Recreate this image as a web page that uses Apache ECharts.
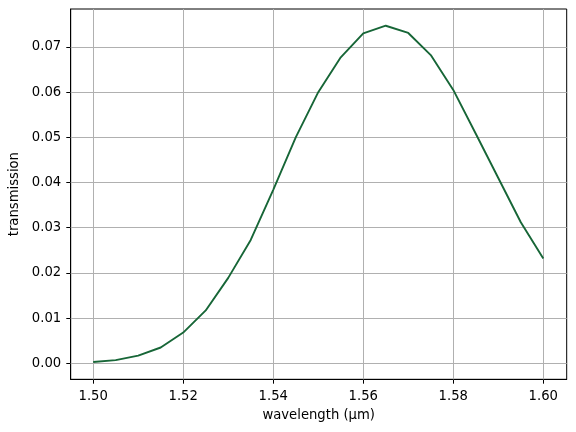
<!DOCTYPE html>
<html><head><meta charset="utf-8">
<script src="https://cdn.jsdelivr.net/npm/echarts@6/dist/echarts.min.js"></script>
<style>html,body{margin:0;padding:0;background:#fff}#c{width:576px;height:432px}</style>
</head><body><div id="c"></div>
<script>
const wavelength = [1.500,1.505,1.510,1.515,1.520,1.525,1.530,1.535,1.540,1.545,1.550,1.555,1.560,1.565,1.570,1.575,1.580,1.585,1.590,1.595,1.600];
const transmission = [0.0003,0.0007,0.0017,0.0035,0.0068,0.0117,0.0189,0.0273,0.0384,0.0500,0.0600,0.0677,0.0730,0.0747,0.0731,0.0682,0.0605,0.0508,0.0410,0.0312,0.0232];
const xTicks = [1.50,1.52,1.54,1.56,1.58,1.60];
const yTicks = [0.00,0.01,0.02,0.03,0.04,0.05,0.06,0.07];

const font = 'DejaVu Sans';
const fs = 13.2;
const chart = echarts.init(document.getElementById('c'));
chart.setOption({
  animation:false,
  grid:{left:70.7,right:9.3,top:9,bottom:52.7,outerBoundsMode:'none',containLabel:false,show:true,borderColor:'#000',borderWidth:1,backgroundColor:'transparent'},
  xAxis:{type:'value',min:1.495,max:1.6052,
    name:'wavelength (µm)',nameLocation:'middle',nameGap:30,
    nameTextStyle:{fontFamily:font,fontSize:fs,color:'#000'},
    axisLine:{show:true,onZero:false,lineStyle:{color:'#000',width:1}},
    axisTick:{show:true,length:4.4,lineStyle:{color:'#000',width:1},customValues:xTicks},
    axisLabel:{fontFamily:font,fontSize:fs,color:'#000',margin:10.5,customValues:xTicks,formatter:v=>v.toFixed(2)},
    splitLine:{show:false}},
  yAxis:{type:'value',min:-0.00354,max:0.0784,
    name:'transmission',nameLocation:'middle',nameGap:43,nameRotate:90,
    nameTextStyle:{fontFamily:font,fontSize:fs,color:'#000'},
    axisLine:{show:true,onZero:false,lineStyle:{color:'#000',width:1}},
    axisTick:{show:true,length:4.4,lineStyle:{color:'#000',width:1},customValues:yTicks},
    axisLabel:{fontFamily:font,fontSize:fs,color:'#000',margin:9.5,customValues:yTicks,formatter:v=>v.toFixed(2)},
    splitLine:{show:false}},
  series:[{type:'line',data:wavelength.map((w,i)=>[w,transmission[i]]),
    showSymbol:false,lineStyle:{color:'#176637',width:1.9},itemStyle:{color:'#176637'},z:3,
    markLine:{silent:true,symbol:'none',label:{show:false},z:1,
      lineStyle:{color:'#b0b0b0',width:1,type:'solid'},
      data:[...xTicks.map(v=>({xAxis:v})),...yTicks.map(v=>({yAxis:v}))]}
  }]
});
</script></body></html>
